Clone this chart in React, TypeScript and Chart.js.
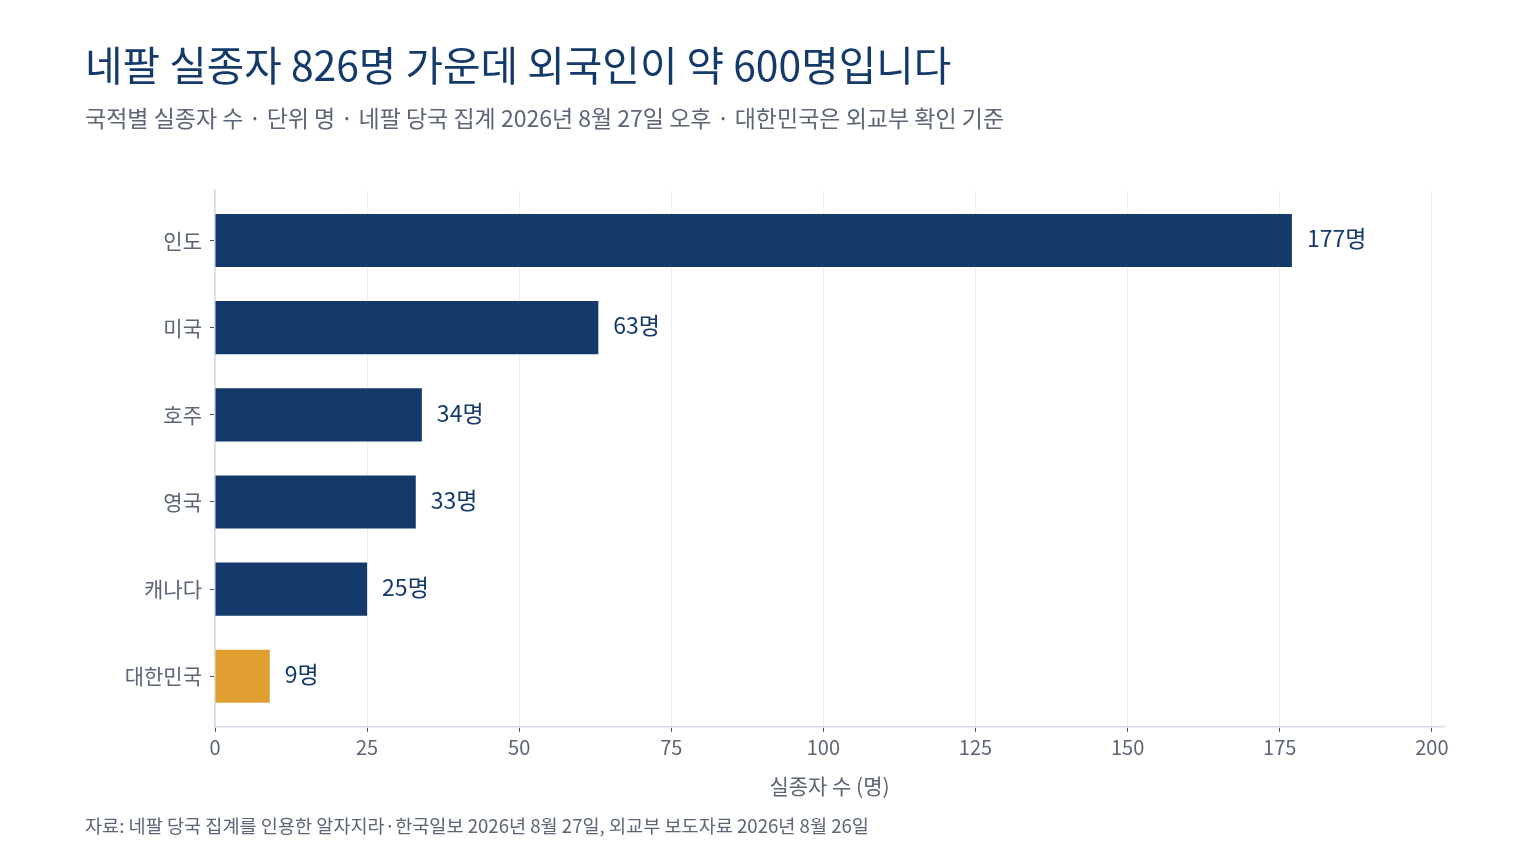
import React, { useEffect, useRef } from "react";
import { Chart, registerables } from "chart.js";

Chart.register(...registerables);

const categories = ["인도", "미국", "호주", "영국", "캐나다", "대한민국"];
const missingCounts = [177, 63, 34, 33, 25, 9];
const highlightCategory = "대한민국";
const xTickValues = [0, 25, 50, 75, 100, 125, 150, 175, 200];

const titleText = "네팔 실종자 826명 가운데 외국인이 약 600명입니다";
const subtitleText =
  "국적별 실종자 수 · 단위 명 · 네팔 당국 집계 2026년 8월 27일 오후 · 대한민국은 외교부 확인 기준";
const footerText =
  "자료: 네팔 당국 집계를 인용한 알자지라·한국일보 2026년 8월 27일, 외교부 보도자료 2026년 8월 26일";
const xAxisTitle = "실종자 수 (명)";
const unitSuffix = "명";

const FONT = '"Noto Sans CJK KR", "Noto Sans", sans-serif';
const NAVY = "#143a6b";
const ORANGE = "#e09f30";
const GRAY = "#5b6576";

export default function App() {
  const canvasRef = useRef<HTMLCanvasElement | null>(null);

  useEffect(() => {
    if (!canvasRef.current) return;

    const textPlugin = {
      id: "textPlugin",
      afterDraw(chart: any) {
        const ctx = chart.ctx;
        ctx.save();
        ctx.textAlign = "left";
        ctx.textBaseline = "middle";
        ctx.fillStyle = NAVY;
        ctx.font = `400 40.8px ${FONT}`;
        ctx.fillText(titleText, 85, 65);
        ctx.fillStyle = GRAY;
        ctx.font = `400 23px ${FONT}`;
        ctx.fillText(subtitleText, 85, 118);
        ctx.font = `400 18.6px ${FONT}`;
        ctx.fillText(footerText, 85, 826);
        ctx.restore();
      },
      afterDatasetsDraw(chart: any) {
        const ctx = chart.ctx;
        const meta = chart.getDatasetMeta(0);
        ctx.save();
        ctx.fillStyle = NAVY;
        ctx.font = `400 23px ${FONT}`;
        ctx.textAlign = "left";
        ctx.textBaseline = "middle";
        meta.data.forEach((bar: any, i: number) => {
          ctx.fillText(`${missingCounts[i]}${unitSuffix}`, bar.x + 15, bar.y - 2);
        });
        ctx.restore();
      },
    };

    const chart = new Chart(canvasRef.current, {
      type: "bar",
      data: {
        datasets: [
          {
            data: missingCounts.map((v, i) => ({ x: v, y: i })),
            backgroundColor: categories.map((c) =>
              c === highlightCategory ? ORANGE : NAVY
            ),
            borderWidth: 0,
            barPercentage: 0.61,
            categoryPercentage: 1,
          },
        ],
      },
      options: {
        indexAxis: "y",
        responsive: false,
        animation: false,
        layout: { padding: { left: 85, right: 92, top: 190, bottom: 63 } },
        plugins: {
          legend: { display: false },
          tooltip: { enabled: false },
          title: { display: false },
        },
        scales: {
          x: {
            type: "linear",
            min: 0,
            max: 202,
            afterBuildTicks: (scale: any) => {
              scale.ticks = xTickValues.map((v) => ({ value: v }));
            },
            ticks: {
              color: GRAY,
              font: { family: FONT, size: 20 },
              padding: 4,
            },
            grid: {
              color: "#edf0f5",
              lineWidth: 1,
              drawTicks: true,
              tickLength: 5,
              tickColor: "#4a5262",
            },
            border: { color: "#d5dbe6", width: 1.5 },
            title: {
              display: true,
              text: xAxisTitle,
              color: GRAY,
              font: { family: FONT, size: 21 },
              padding: { top: 10, bottom: 2 },
            },
          },
          y: {
            type: "linear",
            reverse: true,
            offset: false,
            min: -0.58,
            max: 5.58,
            afterBuildTicks: (scale: any) => {
              scale.ticks = categories.map((_, i) => ({ value: i }));
            },
            afterFit: (scale: any) => {
              scale.width = 130;
            },
            ticks: {
              color: GRAY,
              font: { family: FONT, size: 21 },
              padding: 8,
              callback: (v: any) => categories[v as number] ?? "",
            },
            grid: {
              offset: false,
              drawOnChartArea: false,
              drawTicks: true,
              tickLength: 5,
              tickColor: "#4a5262",
            },
            border: { color: "#d5dbe6", width: 1.5 },
          },
        },
      },
      plugins: [textPlugin],
    } as any);

    return () => chart.destroy();
  }, []);

  return (
    <div
      style={{
        position: "absolute",
        left: 0,
        top: 0,
        width: 1536,
        height: 864,
        background: "#ffffff",
      }}
    >
      <canvas ref={canvasRef} width={1536} height={864} />
    </div>
  );
}
